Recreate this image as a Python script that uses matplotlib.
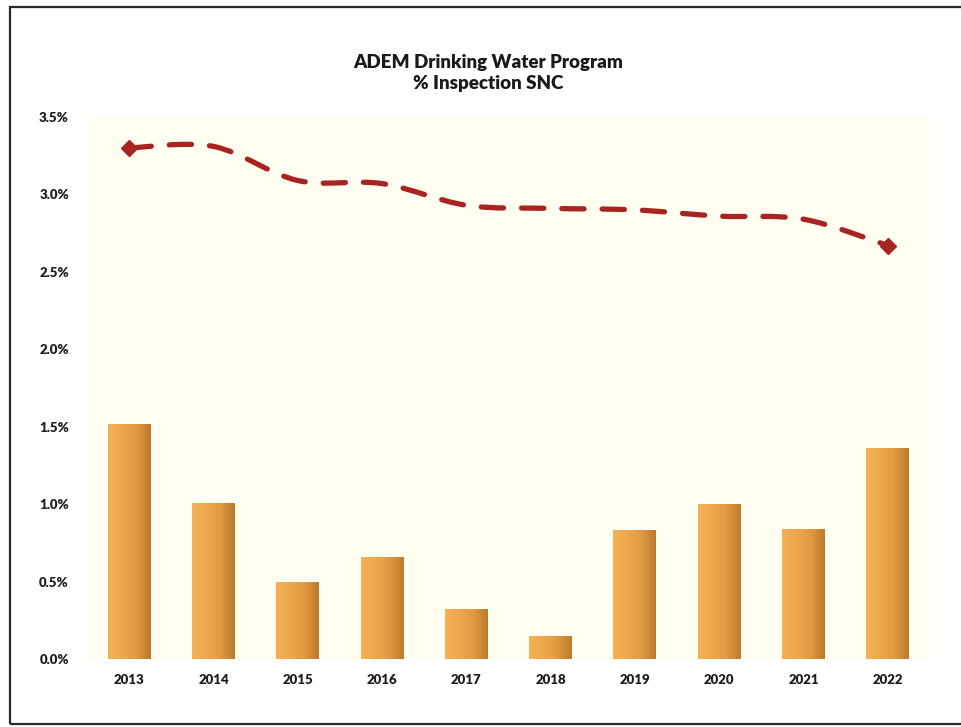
import numpy as np
import matplotlib
matplotlib.use("Agg")
import matplotlib.pyplot as plt
from matplotlib.path import Path
from matplotlib.patches import PathPatch, Rectangle
from matplotlib.ticker import FuncFormatter, MultipleLocator
from matplotlib.colors import LinearSegmentedColormap

plt.rcParams['font.family'] = ['Lato', 'DejaVu Sans']
plt.rcParams['lines.scale_dashes'] = False

years = ['2013', '2014', '2015', '2016', '2017', '2018', '2019', '2020', '2021', '2022']
bar_values = [1.52, 1.01, 0.50, 0.66, 0.32, 0.15, 0.83, 1.00, 0.84, 1.36]
line_values = [3.30, 3.31, 3.09, 3.07, 2.93, 2.91, 2.90, 2.86, 2.84, 2.67]
title = "ADEM Drinking Water Program\n% Inspection SNC"

fig = plt.figure(figsize=(9.61, 7.27), dpi=100)
fig.patch.set_facecolor('white')
ax = fig.add_axes([87/961, 68/727, 843/961, 542/727])
ax.set_facecolor('#FFFEF1')

x = np.arange(len(years))
ax.set_xlim(-0.5, len(years) - 0.5)
ax.set_ylim(0, 3.5)

# bars with horizontal gradient
cmap = LinearSegmentedColormap.from_list('bar', ['#F6B056', '#EEA84C', '#E09A42', '#BB7A2C'])
grad = np.linspace(0, 1, 64).reshape(1, -1)
bars = ax.bar(x, bar_values, width=0.51, color='#E9A247', edgecolor='none', zorder=2)
for b in bars:
    bx, by = b.get_x(), b.get_y()
    w, h = b.get_width(), b.get_height()
    im = ax.imshow(grad, cmap=cmap, aspect='auto', extent=(bx, bx + w, by, by + h),
                   zorder=2.5, interpolation='bicubic')
    im.set_clip_path(b)

# smoothed dashed line (Catmull-Rom as cubic Bezier segments)
pts = np.column_stack([x, line_values]).astype(float)
verts = [tuple(pts[0])]
codes = [Path.MOVETO]
n = len(pts)
for i in range(n - 1):
    p0 = pts[i - 1] if i > 0 else pts[i]
    p1 = pts[i]
    p2 = pts[i + 1]
    p3 = pts[i + 2] if i + 2 < n else pts[i + 1]
    c1 = p1 + (p2 - p0) / 6.0
    c2 = p2 - (p3 - p1) / 6.0
    verts += [tuple(c1), tuple(c2), tuple(p2)]
    codes += [Path.CURVE4, Path.CURVE4, Path.CURVE4]
path = Path(verts, codes)
line = PathPatch(path, facecolor='none', edgecolor='#A82420', linewidth=3.8,
                 linestyle=(0, (16, 13)), capstyle='round', zorder=4)
ax.add_patch(line)
ax.plot([x[0]], [line_values[0]], marker='D', markersize=8, color='#A82420', zorder=5)
ax.plot([x[-1]], [line_values[-1]], marker='D', markersize=8, color='#A82420', zorder=5)

ax.yaxis.set_major_locator(MultipleLocator(0.5))
ax.yaxis.set_major_formatter(FuncFormatter(lambda v, p: f"{v:.1f}%"))
ax.set_xticks(x)
ax.set_xticklabels(years)
for sp in ax.spines.values():
    sp.set_visible(False)
ax.tick_params(axis='both', length=0, labelsize=9.5, labelcolor='#1E1E1E')
ax.tick_params(axis='y', pad=13)
ax.tick_params(axis='x', pad=11)
for lab in ax.get_xticklabels() + ax.get_yticklabels():
    lab.set_fontweight('heavy')

fig.text(488/961, 1 - 73/727, title, ha='center', va='center', fontsize=13.5,
         fontweight='heavy', color='#1A1A1A', linespacing=1.35)

border = Rectangle((9.5/961, 3/727), 1.0, 717/727, transform=fig.transFigure,
                   fill=False, edgecolor='#2A2A2A', linewidth=1.6)
fig.add_artist(border)

fig.savefig('out.png', dpi=100)
